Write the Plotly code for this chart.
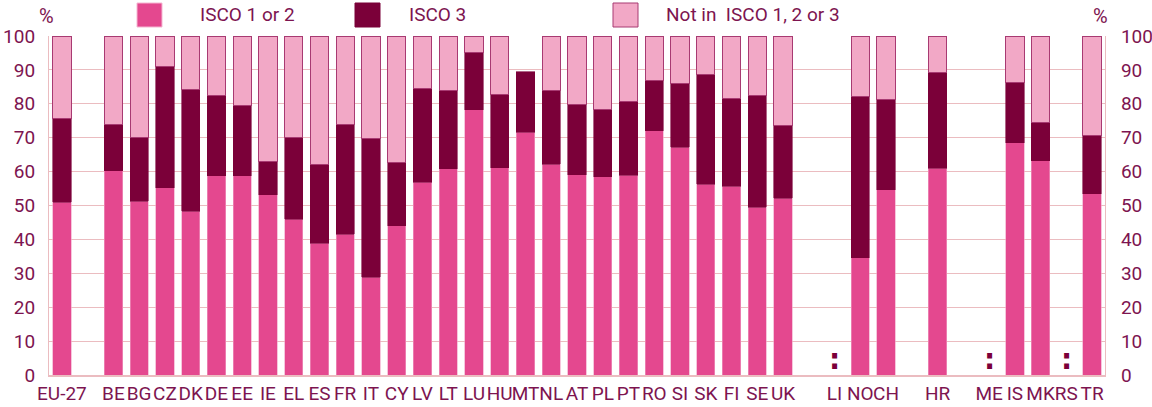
import plotly.graph_objects as go

# Categories along the x axis; blank entries are spacer slots between groups
categories = ["EU-27", " ", "BE", "BG", "CZ", "DK", "DE", "EE", "IE", "EL", "ES", "FR",
              "IT", "CY", "LV", "LT", "LU", "HU", "MT", "NL", "AT", "PL", "PT", "RO",
              "SI", "SK", "FI", "SE", "UK", "  ", "LI", "NO", "CH", "   ", "HR", "    ",
              "ME", "IS", "MK", "RS", "TR"]

# Share of employed persons (%)
isco_1_2 = [50.9, None, 60.3, 51.3, 55.3, 48.3, 58.8, 58.8, 53.2, 45.9, 38.9, 41.5,
            28.8, 44.0, 56.9, 60.8, 78.3, 61.1, 71.6, 62.1, 59.0, 58.5, 58.9, 72.1,
            67.2, 56.3, 55.7, 49.5, 52.1, None, None, 34.6, 54.6, None, 61.0, None,
            None, 68.5, 63.2, None, 53.4]
isco_3 = [24.7, None, 13.6, 18.8, 35.6, 35.8, 23.6, 20.7, 9.9, 24.1, 23.2, 32.4,
          41.0, 18.6, 27.5, 23.2, 16.9, 21.7, 17.9, 21.7, 20.8, 19.8, 21.9, 14.8,
          18.7, 32.2, 26.0, 32.9, 21.5, None, None, 47.7, 26.8, None, 28.3, None,
          None, 17.8, 11.4, None, 17.2]
not_isco = [24.4, None, 26.1, 29.9, 9.1, 15.9, 17.6, 20.5, 36.9, 30.0, 37.9, 26.1,
            30.2, 37.4, 15.6, 16.0, 4.8, 17.2, None, 16.2, 20.2, 21.7, 19.2, 13.1,
            14.1, 11.5, 18.3, 17.6, 26.4, None, None, 17.7, 18.6, None, 10.7, None,
            None, 13.7, 25.4, None, 29.4]

# Countries with data not available
not_available = ["LI", "ME", "RS"]

series_names = ["ISCO 1 or 2", "ISCO 3", "Not in  ISCO 1, 2 or 3"]
y_ticks = [0, 10, 20, 30, 40, 50, 60, 70, 80, 90, 100]

C_12 = "#e4488f"
C_3 = "#7b0039"
C_NOT = "#f2a8c6"
C_TEXT = "#7d1450"
C_GRID = "#ebbcc0"
FONT = "Roboto, sans-serif"

W, H = 1152, 407
ML, MR, MT, MB = 49, 47, 36, 32
PW, PH = W - ML - MR, H - MT - MB


def px_x(x):
    return (x - ML) / PW


def px_y(y):
    return (H - MB - y) / PH


fig = go.Figure()
fig.add_trace(go.Bar(x=categories, y=isco_1_2, name=series_names[0],
                     marker=dict(color=C_12, line=dict(color="#f0a0c4", width=0.6))))
fig.add_trace(go.Bar(x=categories, y=isco_3, name=series_names[1],
                     marker=dict(color=C_3, line=dict(color=C_3, width=0.6))))
fig.add_trace(go.Bar(x=categories, y=not_isco, name=series_names[2],
                     marker=dict(color=C_NOT, line=dict(color="#a83a72", width=1))))
# invisible trace to carry the right-hand axis
fig.add_trace(go.Scatter(x=[categories[0]], y=[0], yaxis="y2", mode="markers",
                         marker=dict(opacity=0), hoverinfo="skip", showlegend=False))

# ":" markers for unavailable data
for c in not_available:
    fig.add_annotation(x=c, y=4.6, yanchor="middle", text="<b>:</b>", showarrow=False,
                       font=dict(family="DejaVu Sans", size=28, color=C_3))

# Legend drawn as boxes with labels along the top
legend_items = [(137, C_12, "#f5b6d2", series_names[0], 198),
                (355, C_3, C_3, series_names[1], 407),
                (613, C_NOT, "#a83a72", series_names[2], 664)]
for x0, fill, edge, label, tx in legend_items:
    fig.add_shape(type="rect", xref="paper", yref="paper",
                  x0=px_x(x0), x1=px_x(x0 + 25), y0=px_y(27), y1=px_y(3),
                  fillcolor=fill, line=dict(color=edge, width=1))
    fig.add_annotation(xref="paper", yref="paper", x=px_x(tx), y=px_y(15),
                       xanchor="left", yanchor="middle", text=label, showarrow=False,
                       font=dict(family=FONT, size=19, color=C_TEXT))

# "%" unit labels above both axes
for xc in (46, 1100):
    fig.add_annotation(xref="paper", yref="paper", x=px_x(xc), y=px_y(16),
                       xanchor="center", yanchor="middle", text="%", showarrow=False,
                       font=dict(family=FONT, size=20, color=C_TEXT))

axis_common = dict(range=[0, 100], tickmode="array", tickvals=y_ticks, ticks="",
                   automargin=False, tickfont=dict(family=FONT, size=19, color=C_TEXT))

fig.update_layout(
    width=W, height=H,
    margin=dict(l=ML, r=MR, t=MT, b=MB),
    paper_bgcolor="white", plot_bgcolor="white",
    barmode="stack", bargap=0.29, showlegend=False,
    xaxis=dict(categoryorder="array", categoryarray=categories,
               tickmode="array", tickvals=categories, ticktext=categories,
               range=[-0.5, len(categories) - 0.5], ticks="", tickangle=0,
               automargin=False,
               showline=True, linecolor=C_GRID, linewidth=1.5,
               tickfont=dict(family=FONT, size=19, color=C_TEXT)),
    yaxis=dict(**axis_common, showgrid=True, gridcolor=C_GRID, gridwidth=1.2,
               zeroline=False, showline=True, linecolor=C_GRID, linewidth=1.2,
               ticklabelstandoff=9),
    yaxis2=dict(**axis_common, overlaying="y", side="right", showgrid=False,
                zeroline=False, showline=True, linecolor=C_GRID, linewidth=1.2,
                ticklabelstandoff=11),
)

fig.write_html("out.html")
